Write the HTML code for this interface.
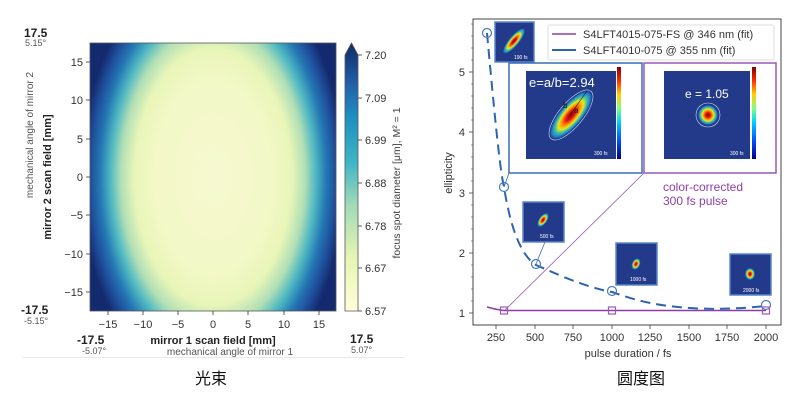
<!DOCTYPE html>
<html><head><meta charset="utf-8"><style>
body{margin:0;background:#fff;}
svg{display:block;font-family:"Liberation Sans","DejaVu Sans","Noto Sans CJK SC",sans-serif;}
</style></head><body>
<svg width="808" height="400" viewBox="0 0 808 400" xmlns="http://www.w3.org/2000/svg">
<defs>
<radialGradient id="hm" cx="50%" cy="50%" r="50%" fx="50%" fy="50%" gradientTransform="translate(0.5 0.5) scale(1.07 1.6) translate(-0.5 -0.5)">
<stop offset="0" stop-color="#f6f9d0"/>
<stop offset="0.45" stop-color="#f2f8c6"/>
<stop offset="0.6" stop-color="#e8f5b8"/>
<stop offset="0.7" stop-color="#b0dfb6"/>
<stop offset="0.78" stop-color="#4fb8c2"/>
<stop offset="0.86" stop-color="#2478b4"/>
<stop offset="0.93" stop-color="#1f4f9c"/>
<stop offset="1" stop-color="#142a6e"/>
</radialGradient>
<linearGradient id="cb" x1="0" y1="1" x2="0" y2="0">
<stop offset="0" stop-color="#ffffd9"/>
<stop offset="0.2" stop-color="#e6f5b2"/>
<stop offset="0.4" stop-color="#9fd9b8"/>
<stop offset="0.55" stop-color="#41b6c4"/>
<stop offset="0.72" stop-color="#1d91c0"/>
<stop offset="0.85" stop-color="#225ea8"/>
<stop offset="1" stop-color="#0c2c64"/>
</linearGradient>
<radialGradient id="jet">
<stop offset="0" stop-color="#8b0000"/>
<stop offset="0.25" stop-color="#e31a1c"/>
<stop offset="0.45" stop-color="#ff9900"/>
<stop offset="0.6" stop-color="#e8e81a"/>
<stop offset="0.75" stop-color="#40c0a0"/>
<stop offset="0.9" stop-color="#2080d0"/>
<stop offset="1" stop-color="#233a8a"/>
</radialGradient>
<linearGradient id="jetbar" x1="0" y1="1" x2="0" y2="0">
<stop offset="0" stop-color="#00008b"/>
<stop offset="0.2" stop-color="#0050ff"/>
<stop offset="0.4" stop-color="#00d0ff"/>
<stop offset="0.55" stop-color="#80ff80"/>
<stop offset="0.7" stop-color="#ffd000"/>
<stop offset="0.85" stop-color="#ff3000"/>
<stop offset="1" stop-color="#800000"/>
</linearGradient>
</defs>

<!-- LEFT heatmap -->
<rect x="90" y="43" width="246" height="268" fill="url(#hm)" stroke="#555" stroke-width="0.8"/>
<polygon points="345,55 351.5,43 358,55 358,311 345,311" fill="url(#cb)" stroke="#555" stroke-width="0.8"/>
<g font-size="11" fill="#333">
<g stroke="#333" stroke-width="0.8">
<line x1="108" y1="311" x2="108" y2="315"/><line x1="143" y1="311" x2="143" y2="315"/><line x1="178" y1="311" x2="178" y2="315"/><line x1="213" y1="311" x2="213" y2="315"/><line x1="248" y1="311" x2="248" y2="315"/><line x1="284" y1="311" x2="284" y2="315"/><line x1="319" y1="311" x2="319" y2="315"/>
<line x1="86" y1="62" x2="90" y2="62"/><line x1="86" y1="100" x2="90" y2="100"/><line x1="86" y1="139" x2="90" y2="139"/><line x1="86" y1="177" x2="90" y2="177"/><line x1="86" y1="215" x2="90" y2="215"/><line x1="86" y1="254" x2="90" y2="254"/><line x1="86" y1="292" x2="90" y2="292"/>
<line x1="358" y1="55" x2="362" y2="55"/><line x1="358" y1="98" x2="362" y2="98"/><line x1="358" y1="140" x2="362" y2="140"/><line x1="358" y1="183" x2="362" y2="183"/><line x1="358" y1="226" x2="362" y2="226"/><line x1="358" y1="268" x2="362" y2="268"/><line x1="358" y1="311" x2="362" y2="311"/>
</g>
<g text-anchor="middle"><text x="108" y="328">−15</text><text x="143" y="328">−10</text><text x="178" y="328">−5</text><text x="213" y="328">0</text><text x="248" y="328">5</text><text x="284" y="328">10</text><text x="319" y="328">15</text></g>
<g text-anchor="end"><text x="83" y="66">15</text><text x="83" y="104">10</text><text x="83" y="143">5</text><text x="83" y="181">0</text><text x="83" y="219">−5</text><text x="83" y="258">−10</text><text x="83" y="296">−15</text></g>
<g><text x="365" y="59">7.20</text><text x="365" y="102">7.09</text><text x="365" y="144">6.99</text><text x="365" y="187">6.88</text><text x="365" y="230">6.78</text><text x="365" y="272">6.67</text><text x="365" y="315">6.57</text></g>
</g>
<text transform="translate(400,183) rotate(-90)" text-anchor="middle" font-size="10.5" fill="#444">focus spot diameter [μm], M² = 1</text>
<text transform="translate(33,135) rotate(-90)" text-anchor="middle" font-size="10" fill="#555">mechanical angle of mirror 2</text>
<text transform="translate(51,177) rotate(-90)" text-anchor="middle" font-size="11" font-weight="bold" fill="#222">mirror 2 scan field [mm]</text>
<text x="24" y="37" font-size="12" font-weight="bold" fill="#222">17.5</text>
<text x="25" y="46" font-size="9" fill="#555">5.15°</text>
<text x="21" y="314" font-size="12" font-weight="bold" fill="#222">-17.5</text>
<text x="24" y="324" font-size="9" fill="#555">-5.15°</text>
<text x="77" y="344" font-size="12" font-weight="bold" fill="#222">-17.5</text>
<text x="82" y="354" font-size="9" fill="#555">-5.07°</text>
<text x="213" y="344" text-anchor="middle" font-size="11" font-weight="bold" fill="#222">mirror 1 scan field [mm]</text>
<text x="230" y="355" text-anchor="middle" font-size="10" fill="#555">mechanical angle of mirror 1</text>
<text x="350" y="343" font-size="12" font-weight="bold" fill="#222">17.5</text>
<text x="351" y="353" font-size="9" fill="#555">5.07°</text>
<line x1="22" y1="357.5" x2="404" y2="357.5" stroke="#e8e8e8"/>
<text x="211" y="384" text-anchor="middle" font-size="16" fill="#111">光束</text>

<!-- RIGHT chart -->
<rect x="473" y="19" width="308" height="306" fill="#fff" stroke="#444" stroke-width="1"/>
<g stroke="#444" stroke-width="0.8">
<line x1="469" y1="313" x2="473" y2="313"/><line x1="469" y1="253" x2="473" y2="253"/><line x1="469" y1="193" x2="473" y2="193"/><line x1="469" y1="132" x2="473" y2="132"/><line x1="469" y1="72" x2="473" y2="72"/>
<line x1="496" y1="325" x2="496" y2="329"/><line x1="535" y1="325" x2="535" y2="329"/><line x1="573" y1="325" x2="573" y2="329"/><line x1="612" y1="325" x2="612" y2="329"/><line x1="650" y1="325" x2="650" y2="329"/><line x1="689" y1="325" x2="689" y2="329"/><line x1="727" y1="325" x2="727" y2="329"/><line x1="766" y1="325" x2="766" y2="329"/>
</g>
<g stroke="#555" stroke-width="0.6">
<line x1="471" y1="301" x2="473" y2="301"/><line x1="471" y1="289" x2="473" y2="289"/><line x1="471" y1="277" x2="473" y2="277"/><line x1="471" y1="265" x2="473" y2="265"/>
<line x1="471" y1="241" x2="473" y2="241"/><line x1="471" y1="229" x2="473" y2="229"/><line x1="471" y1="217" x2="473" y2="217"/><line x1="471" y1="205" x2="473" y2="205"/>
<line x1="471" y1="181" x2="473" y2="181"/><line x1="471" y1="169" x2="473" y2="169"/><line x1="471" y1="157" x2="473" y2="157"/><line x1="471" y1="145" x2="473" y2="145"/>
<line x1="471" y1="120" x2="473" y2="120"/><line x1="471" y1="108" x2="473" y2="108"/><line x1="471" y1="96" x2="473" y2="96"/><line x1="471" y1="84" x2="473" y2="84"/>
<line x1="471" y1="60" x2="473" y2="60"/><line x1="471" y1="48" x2="473" y2="48"/><line x1="471" y1="36" x2="473" y2="36"/><line x1="471" y1="24" x2="473" y2="24"/>
</g>
<g font-size="11" fill="#333">
<g text-anchor="end"><text x="465" y="317">1</text><text x="465" y="257">2</text><text x="465" y="197">3</text><text x="465" y="136">4</text><text x="465" y="76">5</text></g>
<g text-anchor="middle"><text x="496" y="341">250</text><text x="535" y="341">500</text><text x="573" y="341">750</text><text x="612" y="341">1000</text><text x="650" y="341">1250</text><text x="689" y="341">1500</text><text x="727" y="341">1750</text><text x="766" y="341">2000</text></g>
<text x="628" y="357" text-anchor="middle">pulse duration / fs</text>
<text transform="translate(452,173) rotate(-90)" text-anchor="middle">ellipticity</text>
</g>

<!-- connector lines -->
<line x1="504" y1="311" x2="644" y2="173" stroke="#9b59b6" stroke-width="0.8"/>
<line x1="504" y1="187" x2="509" y2="173" stroke="#3a6fb5" stroke-width="0.8"/>
<line x1="536" y1="264" x2="545" y2="242" stroke="#3a6fb5" stroke-width="0.8"/>

<!-- curves -->
<path d="M487,307 C495,309 498,310 504,310.5 L766,310.5" fill="none" stroke="#8e3ea3" stroke-width="1.5"/>
<path d="M487,33 C495,120 500,170 504,187 C510,225 520,255 536,265 C570,280 590,288 612,292 C640,302 660,306 690,308 C720,310 745,308 766,306" fill="none" stroke="#2d64b0" stroke-width="2" stroke-dasharray="10,6"/>
<g fill="none" stroke="#4a78c0" stroke-width="1.2">
<circle cx="487" cy="33" r="4.5"/><circle cx="504" cy="187" r="4.5"/><circle cx="536" cy="264" r="4.5"/><circle cx="612" cy="291" r="4.5"/><circle cx="766" cy="305" r="4.5"/>
</g>
<g fill="none" stroke="#9b59b6" stroke-width="1.2">
<rect x="500.5" y="307" width="7" height="7"/><rect x="608.5" y="307" width="7" height="7"/><rect x="762.5" y="307" width="7" height="7"/>
</g>

<!-- legend -->
<rect x="548" y="25" width="226" height="35" fill="#fff" stroke="#ddd" rx="2"/>
<line x1="552" y1="34" x2="576" y2="34" stroke="#8e3ea3" stroke-width="1.5"/>
<line x1="552" y1="50" x2="576" y2="50" stroke="#2d64b0" stroke-width="2"/>
<text x="583" y="38" font-size="11" fill="#333">S4LFT4015-075-FS @ 346 nm (fit)</text>
<text x="583" y="54" font-size="11" fill="#333">S4LFT4010-075 @ 355 nm (fit)</text>

<!-- small insets -->
<g>
<rect x="495" y="22" width="39" height="40" fill="#233a8a" stroke="#5a86c8" stroke-width="1.5"/>
<ellipse cx="514" cy="41" rx="5" ry="16" transform="rotate(40 514 41)" fill="url(#jet)"/>
<text x="514" y="59" font-size="5" fill="#fff">190 fs</text>
<rect x="523" y="202" width="41" height="40" fill="#233a8a" stroke="#5a86c8" stroke-width="1.5"/>
<ellipse cx="543" cy="220" rx="4" ry="8" transform="rotate(35 543 220)" fill="url(#jet)"/>
<text x="540" y="238" font-size="5" fill="#fff">500 fs</text>
<rect x="616" y="243" width="41" height="42" fill="#233a8a" stroke="#5a86c8" stroke-width="1.5"/>
<ellipse cx="636" cy="264" rx="4" ry="6" transform="rotate(25 636 264)" fill="url(#jet)"/>
<text x="630" y="281" font-size="5" fill="#fff">1000 fs</text>
<rect x="730" y="254" width="41" height="41" fill="#233a8a" stroke="#5a86c8" stroke-width="1.5"/>
<ellipse cx="750" cy="274" rx="5" ry="6" fill="url(#jet)"/>
<text x="743" y="292" font-size="5" fill="#fff">2000 fs</text>
</g>

<!-- big inset 1 -->
<rect x="509" y="63" width="133" height="110" fill="#fff" stroke="#3a6fb5" stroke-width="1.5"/>
<rect x="526" y="71" width="90" height="88" fill="#233a8a"/>
<ellipse cx="571" cy="115" rx="11" ry="30" transform="rotate(40 571 115)" fill="url(#jet)"/>
<ellipse cx="571" cy="115" rx="12" ry="31" transform="rotate(40 571 115)" fill="none" stroke="#cde" stroke-width="0.6"/>
<rect x="617" y="67" width="4" height="92" fill="url(#jetbar)"/>
<text x="529" y="87" font-size="13" fill="#fff">e=a/b=2.94</text>
<text x="563" y="108" font-size="8" fill="#111">b</text><text x="574" y="113" font-size="8" fill="#111">a</text>
<line x1="570" y1="115" x2="587" y2="91" stroke="#111" stroke-width="0.6"/>
<text x="594" y="155" font-size="5" fill="#fff">300 fs</text>
<!-- big inset 2 -->
<rect x="644" y="63" width="132" height="110" fill="#fff" stroke="#9b59b6" stroke-width="1.5"/>
<rect x="664" y="71" width="86" height="88" fill="#233a8a"/>
<circle cx="708" cy="115" r="10" fill="url(#jet)"/>
<circle cx="708" cy="115" r="12" fill="none" stroke="#cde" stroke-width="0.6"/>
<rect x="752" y="67" width="4" height="92" fill="url(#jetbar)"/>
<text x="685" y="98" font-size="12" fill="#fff">e = 1.05</text>
<text x="730" y="155" font-size="5" fill="#fff">300 fs</text>
<text x="663" y="191" font-size="12" fill="#8e3ea3">color-corrected</text>
<text x="663" y="205" font-size="12" fill="#8e3ea3">300 fs pulse</text>

<text x="641" y="384" text-anchor="middle" font-size="16" fill="#111">圆度图</text>
</svg>
</body></html>
